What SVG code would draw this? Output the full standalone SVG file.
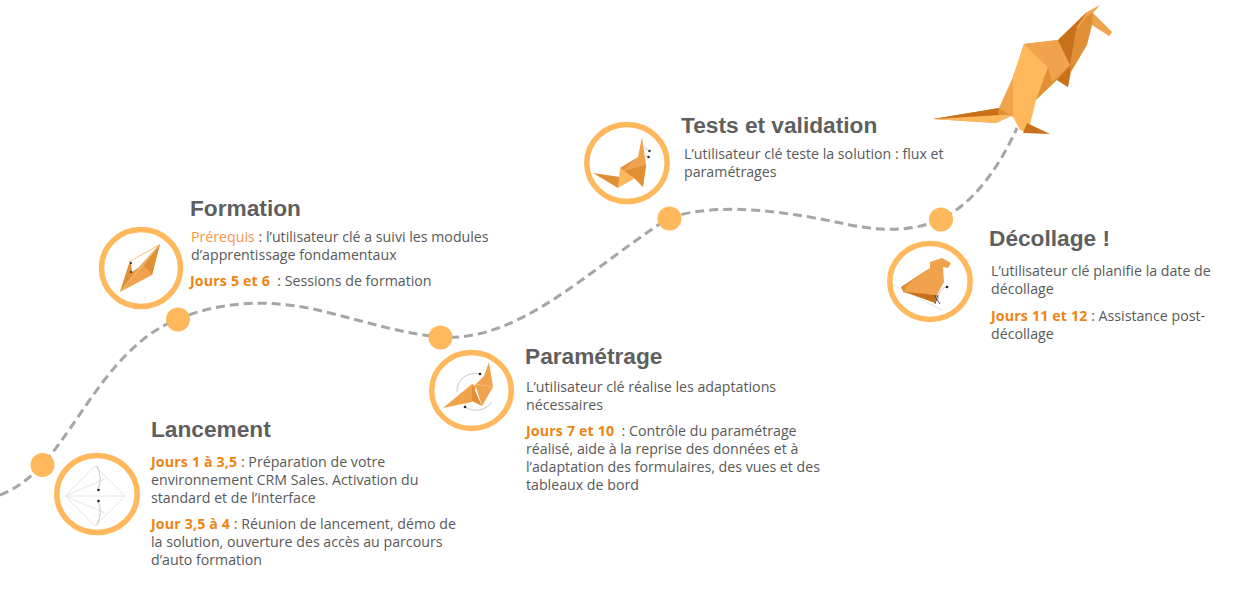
<svg xmlns="http://www.w3.org/2000/svg" width="1236" height="604" viewBox="0 0 1236 604">
<style>
.t{font-family:"Liberation Sans",Arial,sans-serif;font-weight:700;font-size:22.7px;fill:#5f5f5f}
.b{font-family:"Open Sans","Noto Sans",sans-serif;font-size:14.2px;fill:#595959}
.o{fill:#ee8412;font-weight:700;letter-spacing:.15px}
.p{fill:#f79646}
.ring{fill:#fff;stroke:#ffb85c;stroke-width:5.5}
.dot{fill:#ffb85c}
.l{fill:#ffb85c}.m{fill:#f0a34c}.d{fill:#e08f35}.k{fill:#c9701a}
.thin{fill:none;stroke:#e6e6e6;stroke-width:1}
.arc{fill:none;stroke:#c8c8c8;stroke-width:1}
.blk{fill:#222}
</style>
<rect width="1236" height="604" fill="#fff"/>
<g id="connectors">
<path d="M0 495C16 489 30 478 42 465C80 424 112 345 178 319C230 298 280 300 330 313C370 323 405 334 440 337C520 343 590 268 669 218C720 201 790 212 850 225C890 233 920 229 941 219C975 203 1000 165 1017 128" fill="none" stroke="#a6a6a6" stroke-width="3" stroke-dasharray="9 5"/>
</g>
<g id="dots">
<circle class="dot" cx="42.500" cy="465" r="12"/>
<circle class="dot" cx="178" cy="319.500" r="12"/>
<circle class="dot" cx="440.500" cy="337.500" r="12"/>
<circle class="dot" cx="669.500" cy="218.500" r="12"/>
<circle class="dot" cx="941" cy="219.500" r="12"/>
</g>
<g id="kangaroo">
<polygon class="d" points="1024,44 1058,40 1087,12 1092,25 1087,45 1071,72 1068,87 1057,80 1036,100"/>
<polygon class="d" points="933,119 999,108 1013,115 996,123"/>
<polygon class="l" points="933,119 1001,115 1013,115 996,123"/>
<polygon class="k" points="933,119 999,108 998,115"/>
<polygon class="m" points="999,108 1013,77 1024,44 1030,90 1013,117"/>
<polygon class="m" points="1024,44 1058,40 1070,65 1052,82 1048,67"/>
<polygon class="k" points="1058,40 1087,12 1076,30 1070,65"/>
<polygon class="k" points="1057,80 1071,65 1068,87"/>
<polygon class="m" points="1087,12 1100,5 1093,13 1112,32 1109,36 1092,25 1076,28"/>
<polygon class="d" points="1087,16 1093,13 1092,25 1078,28"/>
<polygon class="l" points="1024,44 1048,67 1036,100 1028,133 1020,130 1013,117 1013,77"/>
<polygon class="k" points="1027,123 1050,134 1023,133"/>
</g>
<g id="lancement">
<ellipse class="ring" cx="97" cy="494" rx="40.200" ry="38.500"/>
<polygon class="thin" points="65,496 95,466 125,496 95,526"/>
<path class="thin" d="M65 496H125M65 496L105 479M65 496L105 513"/>
<path class="arc" d="M97 466Q103 480 98 489M97 525Q103 512 98 501"/>
<circle class="blk" cx="98.500" cy="490" r="1.300"/><circle class="blk" cx="98.500" cy="501" r="1.300"/>
<text class="t" x="151" y="437">Lancement</text>
<text class="b" x="151" y="467"><tspan class="o">Jours 1 à 3,5</tspan> : Préparation de votre</text>
<text class="b" x="151" y="485">environnement CRM Sales. Activation du</text>
<text class="b" x="151" y="503">standard et de l’interface</text>
<text class="b" x="151" y="529"><tspan class="o">Jour 3,5 à 4</tspan> : Réunion de lancement, démo de</text>
<text class="b" x="151" y="547">la solution, ouverture des accès au parcours</text>
<text class="b" x="151" y="565">d’auto formation</text>
</g>
<g id="formation">
<ellipse class="ring" cx="141" cy="268" rx="39.500" ry="38.500"/>
<polygon class="m" points="160,244 152,275 120,292 130,261"/>
<polygon class="d" points="130,261 132,272 138,268 120,292"/>
<polygon class="d" points="160,244 152,275 144,266"/>
<polygon points="158,246 131,261 132,272 138,268" fill="#fff"/>
<path d="M160 244L120 292" stroke="#d9c6a8" stroke-width=".8" fill="none"/>
<circle class="blk" cx="131" cy="263" r="1"/><circle class="blk" cx="131" cy="272" r="1"/>
<text class="t" x="190" y="216">Formation</text>
<text class="b" x="191" y="242"><tspan class="p">Prérequis</tspan> : l’utilisateur clé a suivi les modules</text>
<text class="b" x="191" y="260">d’apprentissage fondamentaux</text>
<text class="b" x="190" y="286"><tspan class="o">Jours 5 et 6</tspan>&#160; : Sessions de formation</text>
</g>
<g id="parametrage">
<ellipse class="ring" cx="471.500" cy="390.500" rx="39.800" ry="38"/>
<path class="arc" d="M457 392A18 18 0 0 1 480 374M492 402A20 20 0 0 1 465 407"/>
<polygon class="m" points="489,362 493,387 476,384 484,376"/>
<polygon class="m" points="443,408 472,384 476,386 472,402"/>
<polygon class="d" points="472,384 482,406 472,401"/>
<polygon class="m" points="475,384 493,387 482,406"/>
<circle class="blk" cx="480" cy="374" r="1.300"/><circle class="blk" cx="465" cy="407" r="1.300"/>
<text class="t" x="525" y="364">Paramétrage</text>
<text class="b" x="526" y="392">L’utilisateur clé réalise les adaptations</text>
<text class="b" x="526" y="410">nécessaires</text>
<text class="b" x="526" y="436"><tspan class="o">Jours 7 et 10</tspan>&#160; : Contrôle du paramétrage</text>
<text class="b" x="526" y="454">réalisé, aide à la reprise des données et à</text>
<text class="b" x="526" y="472">l’adaptation des formulaires, des vues et des</text>
<text class="b" x="526" y="490">tableaux de bord</text>
</g>
<g id="tests">
<ellipse class="ring" cx="627" cy="163" rx="40.200" ry="38.500"/>
<polygon class="d" points="593,173 620,177 618,188"/>
<polygon class="d" points="620,168 638,157 624,171"/>
<polygon class="m" points="642,137 646,165 643,187 638,157"/>
<polygon class="m" points="624,171 638,157 646,165 642,172"/>
<polygon class="l" points="620,168 624,171 635,178 618,188"/>
<polygon class="d" points="624,171 646,165 643,187 634,178"/>
<path class="arc" d="M643 146L649 151M643 155L648 157"/>
<circle class="blk" cx="649.500" cy="151" r="1.200"/><circle class="blk" cx="648.500" cy="157" r="1.200"/>
<text class="t" x="681" y="132.500">Tests et validation</text>
<text class="b" x="684" y="159">L’utilisateur clé teste la solution : flux et</text>
<text class="b" x="684" y="177">paramétrages</text>
</g>
<g id="decollage">
<ellipse class="ring" cx="930" cy="281.500" rx="40.200" ry="38"/>
<path class="thin" d="M893 285L942 310"/>
<polygon class="m" points="901,287 930,268 930,262 942,258 951,263 948,268 943,267 944,282 937,295 905,293"/>
<polygon class="d" points="901,287 930,268 908,284 904,293"/>
<polygon class="k" points="905,292 937,295 935,303"/>
<path class="arc" d="M947 286Q938 290 938 300"/>
<path d="M934 295L940 304M938 295L935 304" stroke="#333" stroke-width=".8" fill="none"/>
<circle class="blk" cx="947" cy="287" r="1.300"/>
<text class="t" x="989" y="246">Décollage !</text>
<text class="b" x="991" y="276">L’utilisateur clé planifie la date de</text>
<text class="b" x="991" y="294">décollage</text>
<text class="b" x="991" y="321"><tspan class="o">Jours 11 et 12</tspan> : Assistance post-</text>
<text class="b" x="991" y="339">décollage</text>
</g>
</svg>
